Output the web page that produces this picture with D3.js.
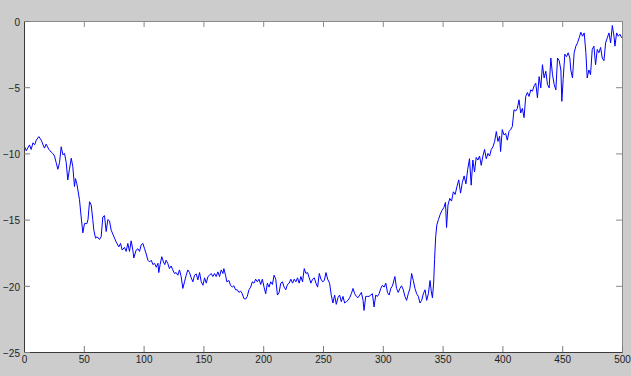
<!DOCTYPE html>
<html>
<head>
<meta charset="utf-8">
<script src="https://cdn.jsdelivr.net/npm/d3@7"></script>
<style>
  html, body { margin: 0; padding: 0; background: #cccccc; }
  svg { display: block; }
  .tick text { font-family: "Liberation Sans", Arial, sans-serif; font-size: 10px; fill: #222; }
</style>
</head>
<body>
<div id="chart"></div>
<script>
// sample positions (x) and the values there (y)
const sampleX = [
  0.4, 1.9, 4.6, 6, 7.5, 8.9, 10.3, 12.4, 14.4, 17.1, 18.5, 20.8, 22.7, 24, 25.5, 26.9, 28.3, 29.7,
  31.1, 32.5, 33.9, 35.3, 36.6, 38, 39.5, 40.8, 42.2, 43, 44.2, 46.4, 47.8, 49.2, 50.6, 52.6, 53.5,
  54.8, 56.2, 57.5, 58.4, 59.8, 61.2, 63.1, 64.5, 65.9, 67.3, 68.7, 70.1, 71.5, 72.9, 75.7, 77.1,
  79.3, 80.7, 82.1, 84, 85.4, 86.8, 88.2, 89.6, 91, 91.8, 93.8, 95.2, 96.6, 98, 99.4, 100.8, 102.2,
  103.6, 105, 106.4, 107.8, 109.2, 110.6, 112, 112.7, 113.8, 115.2, 116.6, 117.7, 118.8, 120.2,
  121.6, 123, 124.4, 125.8, 127.2, 128.6, 130, 131.4, 132.8, 134.2, 135.6, 137, 138.4, 139.8,
  141.2, 142.6, 144, 145.4, 146.8, 148.2, 149.6, 151, 152.4, 153.8, 155.2, 156.5, 157.9, 159.3,
  160.7, 162.1, 163.5, 164.9, 166.3, 167.1, 168.5, 169.6, 171.3, 172.7, 174.1, 175.5, 176.9,
  178.3, 179.7, 181.1, 182.5, 183.9, 185.3, 186.7, 188.1, 189.5, 190.9, 192.3, 193.7, 195.1,
  196.5, 197.9, 199.3, 200.7, 202.1, 203.5, 204.9, 206.3, 207.7, 209.1, 210.5, 211.9, 213.3,
  214.7, 216.1, 217.5, 218.9, 220.3, 221.7, 223.1, 224.5, 225.9, 227.3, 228.7, 230.1, 231.5,
  232.9, 234.3, 235.7, 237.1, 238.5, 239.9, 241.3, 242.7, 244.1, 245.5, 246.9, 248.3, 249.7,
  251.1, 252.5, 253.9, 255.5, 256.9, 258.3, 259.7, 261.1, 262.5, 263.9, 265.3, 266.7, 268.1,
  269.5, 270.9, 272.3, 273.7, 275.1, 276.5, 277.9, 279.3, 280.7, 282.1, 283.5, 284.3, 285.7,
  287.1, 288.5, 289.9, 291.3, 292.7, 294.1, 295.5, 296.9, 298.3, 299.7, 301.1, 302.5, 303.9,
  305.3, 306.7, 308.1, 310.1, 311.5, 312.9, 314.3, 315.7, 317.1, 318.5, 319.9, 321.3, 322.7,
  324.1, 325.5, 326.9, 328.3, 329.7, 331.1, 332.5, 333.9, 335.3, 336.7, 338.1, 339.5, 340.5,
  341.5, 342.5, 343.3, 344.2, 345.2, 346.5, 348, 349.5, 351, 352.4, 353.3, 354.5, 356, 357.5,
  359, 360.5, 362, 363.5, 365, 366.5, 368, 369.5, 371, 372.5, 373.9, 375.3, 376.7, 378.1, 379.5,
  380.9, 382.3, 383.7, 385.1, 386.5, 387.9, 389.3, 390.7, 392.1, 393.5, 394.9, 396.3, 397.7,
  398.5, 399.9, 401.3, 402.7, 404.1, 405.5, 406.9, 408.3, 409.7, 411.1, 412.5, 413.9, 415.3,
  416.7, 418.1, 419.5, 420.9, 422.3, 423.7, 425.1, 426.5, 427.9, 429.3, 430.7, 432.1, 433.5,
  434.9, 436.3, 437.7, 439.1, 440.5, 441.9, 443.3, 444.7, 446.1, 447.5, 448.9, 449.7, 450.8,
  452.2, 453.6, 455, 456.4, 457.2, 458.6, 460, 461.4, 462.8, 464.2, 465.6, 467, 468.4, 469.8,
  470.9, 472.3, 473.7, 475.1, 476.5, 477.9, 479.3, 480.7, 482.1, 483.5, 484.9, 486.3, 487.7,
  489.1, 490.5, 491.9, 493.3, 494.1, 495.5, 496.9, 498.3, 499.7
];
const sampleY = [
  -9.48, -9.8, -9.36, -9.7, -9.2, -9.35, -9.0, -8.73, -9.0, -9.6, -9.3, -9.7, -9.9, -10.0, -10.2, -10.7, -11.2, -10.7,
  -9.5, -10.1, -10.0, -10.7, -12.0, -11.2, -10.36, -11.0, -12.5, -11.9, -12.3, -13.5, -14.8, -16.0, -15.3, -15.3, -15.0,
  -13.65, -13.9, -15.0, -15.8, -16.4, -16.3, -16.5, -16.3, -14.8, -14.7, -15.9, -15.0, -15.1, -15.8, -16.4, -16.7,
  -17.06, -16.8, -17.3, -17.1, -17.4, -16.8, -17.4, -16.6, -17.3, -17.9, -17.3, -17.2, -17.4, -16.9, -16.8, -17.2, -17.6,
  -18.07, -18.2, -18.07, -18.4, -18.3, -18.6, -18.3, -19.0, -18.4, -17.8, -18.2, -18.4, -18.07, -18.3,
  -18.7, -18.5, -18.8, -19.07, -19.0, -19.2, -18.8, -19.3, -20.2, -19.7, -19.2, -18.8, -19.0, -19.4,
  -19.7, -19.2, -19.1, -19.55, -19.0, -19.7, -19.96, -19.4, -19.8, -19.3, -19.2, -19.07, -19.3, -19.07,
  -19.3, -18.95, -19.3, -18.8, -19.07, -18.7, -19.2, -19.7, -19.6, -19.96, -20.1, -20.0, -20.3,
  -20.3, -20.5, -20.4, -20.6, -20.97, -21.0, -20.8, -20.3, -20.1, -19.7, -19.8, -19.5, -19.7,
  -19.5, -19.9, -19.5, -20.1, -20.6, -19.8, -20.1, -19.7, -19.9, -19.2, -19.5, -20.7, -20.5,
  -19.8, -19.7, -20.1, -20.3, -19.9, -19.8, -19.5, -19.8, -19.5, -19.7, -19.4, -19.8, -19.3,
  -19.7, -18.7, -19.07, -19.0, -19.4, -19.8, -19.5, -19.4, -19.8, -20.1, -19.07, -19.5, -19.7,
  -19.6, -19.0, -19.5, -19.8, -20.7, -21.3, -20.7, -21.4, -20.9, -20.7, -21.2, -20.8, -21.3,
  -21.2, -21.1, -20.9, -20.6, -20.2, -20.6, -20.8, -20.9, -20.7, -20.5, -21.1, -21.86, -20.8,
  -20.8, -20.8, -20.7, -20.6, -21.6, -20.7, -20.8, -20.6, -20.2, -19.96, -20.1, -19.8, -20.5,
  -20.7, -20.2, -20.0, -19.3, -20.2, -20.5, -20.2, -20.0, -20.3, -20.8, -21.1, -20.6, -20.2,
  -19.07, -19.6, -20.2, -20.6, -20.8, -21.3, -21.1, -20.6, -20.3, -21.1, -20.6, -19.6, -20.4,
  -20.9, -19.8, -18.0, -16.3, -15.4, -15.0, -14.6, -14.3, -14.1, -13.7, -15.6, -13.9, -13.4, -13.6,
  -12.9, -13.1, -12.5, -12.0, -13.0, -12.2, -11.7, -12.3, -11.2, -10.4, -12.4, -10.5, -11.4, -10.3, -10.5,
  -10.2, -10.9, -10.2, -9.7, -10.4, -10.0, -10.2, -9.7, -9.5, -9.1, -8.35, -9.1, -8.7,
  -9.86, -8.2, -8.6, -8.5, -9.0, -8.35, -8.2, -7.97, -6.7, -6.8, -6.6, -5.95, -6.95,
  -6.6, -7.3, -5.7, -5.4, -5.7, -5.2, -5.3, -4.9, -4.7, -5.8, -4.2, -5.05, -3.3,
  -4.3, -3.8, -4.8, -5.05, -2.8, -4.05, -4.8, -5.2, -2.8, -3.0, -3.7, -6.07, -4.4,
  -2.5, -2.7, -2.4, -2.8, -3.7, -4.3, -2.4, -1.9, -1.65, -1.27, -0.85, -1.15, -0.9, -2.4,
  -4.3, -3.7, -4.05, -2.15, -1.9, -3.3, -2.15, -2.4, -2.0, -2.8, -3.0, -1.65, -1.27,
  -0.9, -1.65, -0.34, -1.15, -1.9, -0.9, -1.15, -1.0, -1.27
];

const xTicks = [0, 50, 100, 150, 200, 250, 300, 350, 400, 450, 500];
const yTicks = [0, -5, -10, -15, -20, -25];

const width = 631, height = 376;
// plot box edges (integer, the axis adds the half pixel)
const box = { left: 24, right: 622, top: 21, bottom: 352 };
const TICK = 6;

const data = sampleX.map((x, i) => ({ x, y: sampleY[i] }));

const svg = d3.select("#chart")
  .append("svg")
  .attr("width", width)
  .attr("height", height);

svg.append("rect")
  .attr("width", width).attr("height", height)
  .attr("fill", "#cccccc");

const xScale = d3.scaleLinear().domain([0, 500]).range([box.left, box.right]);
const yScale = d3.scaleLinear().domain([-25, 0]).range([box.bottom, box.top]);

// white axes area
svg.append("rect")
  .attr("x", box.left).attr("y", box.top)
  .attr("width", box.right - box.left).attr("height", box.bottom - box.top)
  .attr("fill", "#ffffff");

// the series
svg.append("path")
  .datum(data)
  .attr("fill", "none")
  .attr("stroke", "#0000ff")
  .attr("stroke-width", 1)
  .attr("d", d3.line()
    .x(d => xScale(d.x))
    .y(d => yScale(d.y)));

// top and right: ticks only, lighter frame
const topAxis = svg.append("g")
  .attr("transform", `translate(0,${box.top})`)
  .call(d3.axisTop(xScale).tickValues(xTicks).tickSize(-TICK).tickSizeOuter(0).tickFormat(""));
const rightAxis = svg.append("g")
  .attr("transform", `translate(${box.right},0)`)
  .call(d3.axisRight(yScale).tickValues(yTicks).tickSize(-TICK).tickSizeOuter(0).tickFormat(""));

// bottom and left: labelled
const bottomAxis = svg.append("g")
  .attr("transform", `translate(0,${box.bottom})`)
  .call(d3.axisBottom(xScale).tickValues(xTicks).tickSize(-TICK).tickSizeOuter(0).tickPadding(4));
const leftAxis = svg.append("g")
  .attr("transform", `translate(${box.left},0)`)
  .call(d3.axisLeft(yScale).tickValues(yTicks).tickSize(-TICK).tickSizeOuter(0).tickPadding(4)
    .tickFormat(d3.format("d")));

[topAxis, rightAxis].forEach(g => {
  g.select(".domain").attr("stroke", "#8a8a8a");
  g.selectAll(".tick line").attr("stroke", "#8a8a8a");
});
[bottomAxis, leftAxis].forEach(g => {
  g.select(".domain").attr("stroke", "#3a3a3a");
  g.selectAll(".tick line").attr("stroke", "#7a7a7a");
  g.selectAll(".tick text").attr("fill", "#222");
});
leftAxis.selectAll(".tick text").attr("dy", "0.42em");
</script>
</body>
</html>
